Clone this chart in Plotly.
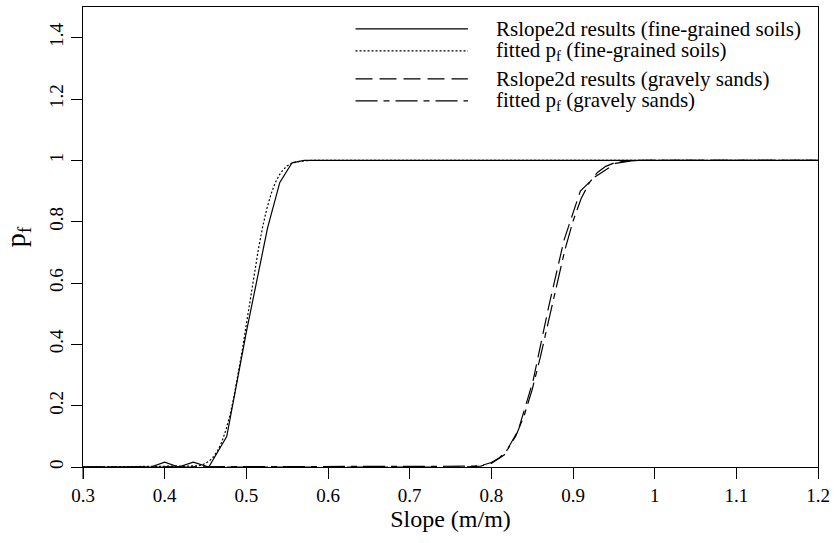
import plotly.graph_objects as go

# Rslope2d results (fine-grained soils)
fine_x = [0.3, 0.383, 0.4, 0.417, 0.435, 0.454, 0.476, 0.5, 0.526, 0.541, 0.556, 0.571, 0.6, 1.2]
fine_y = [0.0, 0.0, 0.016, 0.0, 0.016, 0.0, 0.099, 0.44, 0.78, 0.928, 0.992, 1.0, 1.0, 1.0]

# fitted pf (fine-grained soils)
fitf_x = [0.3, 0.44, 0.445, 0.45, 0.455, 0.46, 0.465, 0.47, 0.475, 0.48, 0.485, 0.49, 0.495, 0.5,
          0.505, 0.51, 0.515, 0.52, 0.525, 0.53, 0.535, 0.54, 0.545, 0.55, 0.555, 0.56, 0.565,
          0.57, 0.58, 0.6, 1.2]
fitf_y = [0.0, 0.0035, 0.0066, 0.0119, 0.0205, 0.0339, 0.0538, 0.0821, 0.1202, 0.1693, 0.2299,
          0.3009, 0.3805, 0.4653, 0.5519, 0.6361, 0.714, 0.7831, 0.8413, 0.8882, 0.9243, 0.9507,
          0.9692, 0.9816, 0.9894, 0.9942, 0.9969, 0.9984, 0.9997, 1.0, 1.0]

# Rslope2d results (gravely sands)
grav_x = [0.3, 0.769, 0.787, 0.8, 0.816, 0.833, 0.851, 0.87, 0.889, 0.909, 0.926, 0.952, 0.976, 1.0, 1.2]
grav_y = [0.0, 0.0, 0.003, 0.012, 0.04, 0.12, 0.28, 0.52, 0.74, 0.90, 0.944, 0.99, 1.0, 1.0, 1.0]

# fitted pf (gravely sands)
fitg_x = [0.3, 0.77, 0.78, 0.79, 0.8, 0.81, 0.82, 0.83, 0.84, 0.85, 0.86, 0.87, 0.88, 0.89,
          0.9, 0.91, 0.92, 0.93, 0.94, 0.95, 0.96, 0.97, 0.98, 1.0, 1.2]
fitg_y = [0.0, 0.001, 0.0026, 0.0065, 0.0146, 0.0301, 0.0575, 0.1015, 0.1661, 0.2525, 0.358,
          0.4757, 0.5957, 0.7073, 0.8019, 0.8753, 0.9271, 0.9606, 0.9803, 0.991, 0.9962,
          0.9985, 0.9995, 1.0, 1.0]

x_ticks = [0.3, 0.4, 0.5, 0.6, 0.7, 0.8, 0.9, 1.0, 1.1, 1.2]
x_ticktext = ["0.3", "0.4", "0.5", "0.6", "0.7", "0.8", "0.9", "1", "1.1", "1.2"]
y_ticks = [0, 0.2, 0.4, 0.6, 0.8, 1.0, 1.2, 1.4]
y_ticktext = ["0", "0.2", "0.4", "0.6", "0.8", "1", "1.2", "1.4"]

legend_labels = [
    "Rslope2d results (fine-grained soils)",
    "fitted p<sub>f</sub> (fine-grained soils)",
    "Rslope2d results (gravely sands)",
    "fitted p<sub>f</sub> (gravely sands)",
]

FONT = "Liberation Serif"
DASHES = ["solid", "2px,2px", "17px,7px", "22px,6px,6px,6px"]

fig = go.Figure()
series = [(fine_x, fine_y), (fitf_x, fitf_y), (grav_x, grav_y), (fitg_x, fitg_y)]
for (xs, ys), dash, name in zip(series, DASHES, legend_labels):
    fig.add_trace(go.Scatter(x=xs, y=ys, mode="lines", name=name,
                             line=dict(color="black", width=1.2, dash=dash),
                             showlegend=False, hoverinfo="skip"))

# manual legend (long line samples, like the original)
L, R, T, B = 83, 14, 6, 76
W, H = 836, 543
pw, ph = W - L - R, H - T - B
def px(xp):
    return (xp - L) / pw
def py(yp):
    return (H - B - yp) / ph

legend_rows = [28, 50, 78, 100]
shapes = []
annotations = []
for yrow, dash, name in zip(legend_rows, DASHES, legend_labels):
    shapes.append(dict(type="line", xref="paper", yref="paper",
                       x0=px(357), x1=px(470), y0=py(yrow), y1=py(yrow),
                       line=dict(color="black", width=1.2, dash=dash)))
    annotations.append(dict(xref="paper", yref="paper", x=px(496), y=py(yrow),
                            xanchor="left", yanchor="middle", text=name, showarrow=False,
                            font=dict(family=FONT, size=21, color="black")))

# left axis line extends a little below zero (R style)
shapes.append(dict(type="line", xref="paper", yref="paper", x0=0, x1=0,
                   y0=-12 / ph, y1=0, line=dict(color="black", width=1)))

fig.update_layout(
    width=W, height=H,
    margin=dict(l=L, r=R, t=T, b=B),
    paper_bgcolor="white", plot_bgcolor="white",
    font=dict(family=FONT, size=19, color="black"),
    shapes=shapes, annotations=annotations,
    xaxis=dict(range=[0.3, 1.2], tickvals=x_ticks, ticktext=x_ticktext,
               showline=True, linecolor="black", linewidth=1, mirror=True,
               ticks="outside", ticklen=11, tickcolor="black", showgrid=False,
               zeroline=False, tickfont=dict(family=FONT, size=19),
               title=dict(text="Slope (m/m)", font=dict(family=FONT, size=24), standoff=4)),
    yaxis=dict(range=[0, 1.5], tickvals=y_ticks, ticktext=y_ticktext,
               showline=True, linecolor="black", linewidth=1, mirror=True,
               ticks="outside", ticklen=11, tickcolor="black", showgrid=False,
               zeroline=False, tickangle=-90, tickfont=dict(family=FONT, size=19),
               title=dict(text="p<sub>f</sub>", font=dict(family=FONT, size=28), standoff=12)),
)

fig.write_html("out.html", config={"displayModeBar": False},
               post_script="document.body.style.margin='0';document.body.style.padding='0';")
